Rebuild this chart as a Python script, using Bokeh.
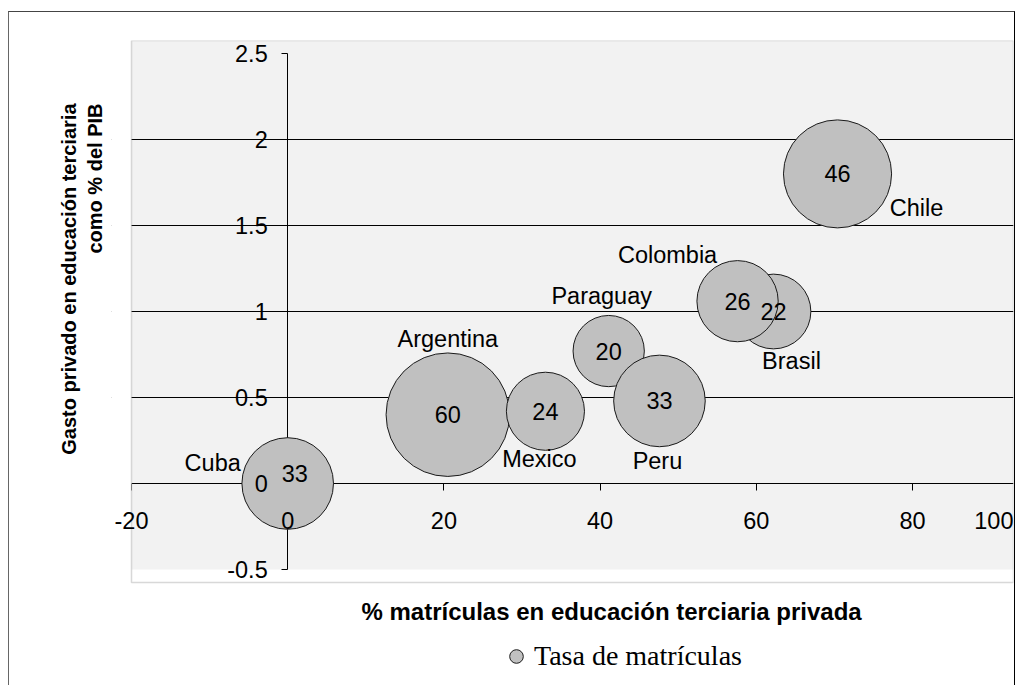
import numpy as np
from bokeh.plotting import figure
from bokeh.models import (ColumnDataSource, Range1d, LinearAxis, FixedTicker, LabelSet, Label,
                          BoxAnnotation, Title, Legend, LegendItem, Grid, NumeralTickFormatter)
from bokeh.core.properties import value
from bokeh.embed import file_html
from bokeh.resources import INLINE

# ---------------- data ----------------
paises = ["Argentina", "Brasil", "Chile", "Colombia", "Cuba", "Mexico", "Paraguay", "Peru"]
matricula_privada = [20.5, 62.2, 70.4, 57.6, 0.0, 33.0, 41.1, 47.6]      # % matrículas privadas
gasto_privado = [0.40, 1.00, 1.80, 1.06, 0.00, 0.42, 0.77, 0.48]          # % del PIB
tasa_matriculas = [60, 22, 46, 26, 33, 24, 20, 33]                        # bubble size

x_ticks = [-20, 0, 20, 40, 60, 80, 100]
y_ticks = [-0.5, 0, 0.5, 1, 1.5, 2, 2.5]
y_grid = [0.5, 1, 1.5, 2]

x_title = "% matrículas en educación terciaria privada"
y_title = ["Gasto privado en educación terciaria", "como % del PIB"]
legend_label = "Tasa de matrículas"

# ---------------- style / placement ----------------
FONT = "Liberation Sans"
SERIF = "Liberation Serif"
DIAM_PER_SQRT = 15.94     # bubble diameter in px per sqrt(size)
PX_PER_X = 7.81           # horizontal scale, px per x unit
PX_PER_Y = 172.0          # vertical scale, px per y unit
# data label placement (screen px: dx right, dy down)
name_place = {"Argentina": (0, -76), "Brasil": (18, 49), "Chile": (79, 34), "Colombia": (-70, -46),
              "Cuba": (-75, -21), "Mexico": (-6, 48), "Paraguay": (-7, -55), "Peru": (-2, 60)}
value_place = {"Cuba": (7, -10)}
XLBL_OFF = 28             # px from x axis line to top of tick labels
X0 = x_ticks[0]           # left edge of the plot area
x_start = X0 - 20 / PX_PER_X            # a little room so the "-20" label is not clipped
FRAME_W, FRAME_H = 902, 645
PLOT_BOTTOM = y_ticks[0] - 13 / PX_PER_Y   # lower edge of the plot-area box
y_top = y_ticks[-1] + 13 / PX_PER_Y
y_bottom = y_top - FRAME_H / PX_PER_Y      # room below for axis title and legend

src = ColumnDataSource(dict(
    pais=paises,
    x=matricula_privada,
    y=gasto_privado,
    tasa_txt=[str(v) for v in tasa_matriculas],
    size=[DIAM_PER_SQRT * np.sqrt(v) for v in tasa_matriculas],
    name_dx=[name_place[c][0] for c in paises],
    name_dy=[-name_place[c][1] for c in paises],
    val_dx=[value_place.get(c, (0, 0))[0] for c in paises],
    val_dy=[-value_place.get(c, (0, 0))[1] for c in paises],
))

p = figure(frame_width=FRAME_W, frame_height=FRAME_H,
           x_range=Range1d(x_start, x_start + FRAME_W / PX_PER_X), y_range=Range1d(y_bottom, y_top),
           output_backend="svg", toolbar_location=None, title=None,
           x_axis_type=None, y_axis_type=None,
           min_border_left=102, min_border_right=1, min_border_top=28, min_border_bottom=0,
           background_fill_color="white", border_fill_color="white",
           outline_line_color=None)
p.styles = {"border-left": "1px solid #666", "border-top": "1px solid #444",
            "border-right": "1px solid #000", "margin": "11px 0 0 8px"}

# grey plot area
p.add_layout(BoxAnnotation(left=X0, bottom=y_ticks[0], fill_color="#f2f2f2", fill_alpha=1.0,
                           line_color=None, level="image"))
# horizontal gridlines
p.add_layout(Grid(dimension=1, ticker=FixedTicker(ticks=y_grid),
                  grid_line_color="black", grid_line_width=1))
# white strip left of the plot area (covers grid ends)
p.add_layout(BoxAnnotation(left=x_start - 1.0, right=X0, fill_color="white", fill_alpha=1.0,
                           line_color=None, level="underlay"))
# plot area border
p.add_layout(BoxAnnotation(left=X0, bottom=PLOT_BOTTOM, fill_color=None, line_color="#7f7f7f",
                           line_width=1.5, level="underlay"))

# axes: lines/ticks (behind bubbles)
ax_x_line = LinearAxis(ticker=FixedTicker(ticks=x_ticks), fixed_location=0, level="underlay",
                       bounds=(X0, x_ticks[-1]), axis_line_color="black", axis_line_width=1,
                       major_tick_out=7, major_tick_in=0, minor_tick_out=0, minor_tick_in=0,
                       major_tick_line_color="black", major_label_text_color=None)
ax_y_line = LinearAxis(ticker=FixedTicker(ticks=y_ticks), fixed_location=0, level="underlay",
                       bounds=(y_ticks[0], y_ticks[-1]), axis_line_color="black", axis_line_width=1,
                       major_tick_out=6, major_tick_in=0, minor_tick_out=0, minor_tick_in=0,
                       major_tick_line_color="black", major_label_text_color=None,
                       formatter=NumeralTickFormatter(format="0.[0]"))
# axes: labels (on top of bubbles)
ax_x_lbl = LinearAxis(ticker=FixedTicker(ticks=x_ticks), fixed_location=0,
                      axis_line_color=None, major_tick_line_color=None, minor_tick_line_color=None,
                      major_tick_out=7, major_tick_in=0, major_label_standoff=XLBL_OFF - 7,
                      major_label_text_font=FONT, major_label_text_font_size="23.5px",
                      major_label_text_color="black",
                      formatter=NumeralTickFormatter(format="0"))
ax_y_lbl = LinearAxis(ticker=FixedTicker(ticks=y_ticks), fixed_location=0,
                      axis_line_color=None, major_tick_line_color=None, minor_tick_line_color=None,
                      major_tick_out=6, major_tick_in=0, major_label_standoff=14,
                      major_label_text_font=FONT, major_label_text_font_size="23.5px",
                      major_label_text_color="black",
                      formatter=NumeralTickFormatter(format="0.[0]"))
p.add_layout(ax_x_line, "below")
p.add_layout(ax_x_lbl, "below")
p.add_layout(ax_y_line, "left")
p.add_layout(ax_y_lbl, "left")

# last x label pulled inside the chart edge (as in the original)
p.add_layout(Label(x=p.x_range.end, y=0, text=str(x_ticks[-1]), text_align="right",
                   text_baseline="top", y_offset=-XLBL_OFF,
                   text_font=FONT, text_font_size="23.5px", text_color="black"))

# bubbles
r = p.scatter("x", "y", size="size", source=src, marker="circle",
              fill_color="#c0c0c0", fill_alpha=1.0, line_color="#1a1a1a", line_width=1)

p.add_layout(LabelSet(x="x", y="y", text="tasa_txt", source=src, x_offset="val_dx", y_offset="val_dy",
                      text_align="center", text_baseline="middle",
                      text_font=value(FONT), text_font_size="23.5px", text_color="black"))
p.add_layout(LabelSet(x="x", y="y", text="pais", source=src, x_offset="name_dx", y_offset="name_dy",
                      text_align="center", text_baseline="middle",
                      text_font=value(FONT), text_font_size="23.5px", text_color="black"))

# y axis title: two lines, both aligned at their top end
p.add_layout(Title(text=y_title[1], align="right", offset=63, standoff=8, vertical_align="top",
                   text_line_height=0.8,
                   text_font=FONT, text_font_size="20px", text_font_style="bold",
                   text_color="black"), "left")
p.add_layout(Title(text=y_title[0], align="right", offset=63, standoff=0, text_line_height=0.8,
                   text_font=FONT, text_font_size="20px", text_font_style="bold",
                   text_color="black"), "left")

# x axis title (below the plot-area box)
p.add_layout(Label(x=250, y=74, x_units="screen", y_units="screen", text=x_title,
                   text_align="left", text_baseline="middle",
                   text_font=FONT, text_font_size="24px", text_font_style="bold", text_color="black"))

legend = Legend(items=[LegendItem(label=legend_label, renderers=[r])],
                location=(388, 12), orientation="horizontal",
                label_text_font=SERIF, label_text_font_size="28px", label_text_color="black",
                glyph_width=34, glyph_height=34, border_line_color=None,
                background_fill_alpha=0, padding=0, margin=0, spacing=0, label_standoff=1)
p.add_layout(legend)

open("out.html", "w").write(file_html(p, INLINE))
